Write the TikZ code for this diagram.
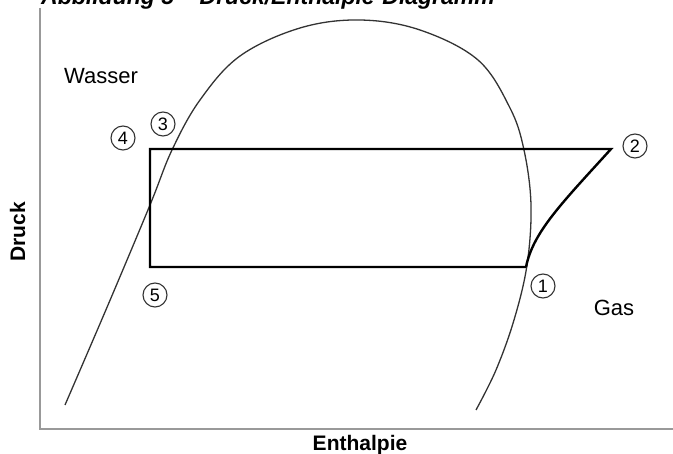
\documentclass[tikz,border=0pt]{standalone}
\usepackage{fontspec}
\setmainfont{Liberation Sans}
\begin{document}
\begin{tikzpicture}[x=1pt,y=-1pt,
  axis/.style={draw=black!40,line width=1.3pt},
  dome/.style={draw=black!80,line width=1.3pt},
  cycleline/.style={draw=black,line width=2.4pt,line join=miter},
  num/.style={circle,draw=black!80,line width=1.1pt,minimum size=24pt,inner sep=0pt,font=\fontsize{18}{18}\selectfont},
  lbl/.style={font=\fontsize{22}{22}\selectfont},
  axlbl/.style={font=\fontsize{21}{21}\selectfont\bfseries}]
\useasboundingbox (0,0) rectangle (673,454);
% title (cut off at the top)
\node[anchor=base west,inner sep=0pt,font=\fontsize{23}{23}\selectfont\bfseries\itshape] (title) at (41,5) {Abbildung 5 – Druck/Enthalpie-Diagramm};
% axes
\coordinate (top) at (40,8);
\coordinate (origin) at (40,429);
\coordinate (right) at (673,429);
\draw[axis] (top) -- (origin) -- (right);
% saturation dome
\draw[dome] plot[smooth,tension=0.6] coordinates {(65,405) (108,305) (150,205) (172,150) (200,100) (240,56) (300,28) (360,20) (420,30) (478,60) (510,108) (524,150) (531,205) (527,265) (514,320) (496,370) (476,410)};
% cycle
\coordinate (p1) at (526,267);
\coordinate (p2) at (611,149);
\coordinate (p3) at (150,149);
\coordinate (p5) at (150,267);
\draw[cycleline] (p1) -- (p5) -- (p3) -- (p2) .. controls (562,203) and (533,232) .. (p1);
% labels
\node[num] (n1) at (543,286) {1};
\node[num] (n2) at (635,146) {2};
\node[num] (n3) at (163,124) {3};
\node[num] (n4) at (123,138) {4};
\node[num] (n5) at (155,295) {5};
\node[lbl,anchor=base] (wasser) at (101,84) {Wasser};
\node[lbl,anchor=base] (gas) at (614,316) {Gas};
\node[axlbl,rotate=90,anchor=base] (druck) at (25,232) {Druck};
\node[axlbl,anchor=base] (enth) at (360,451) {Enthalpie};
\end{tikzpicture}
\end{document}
